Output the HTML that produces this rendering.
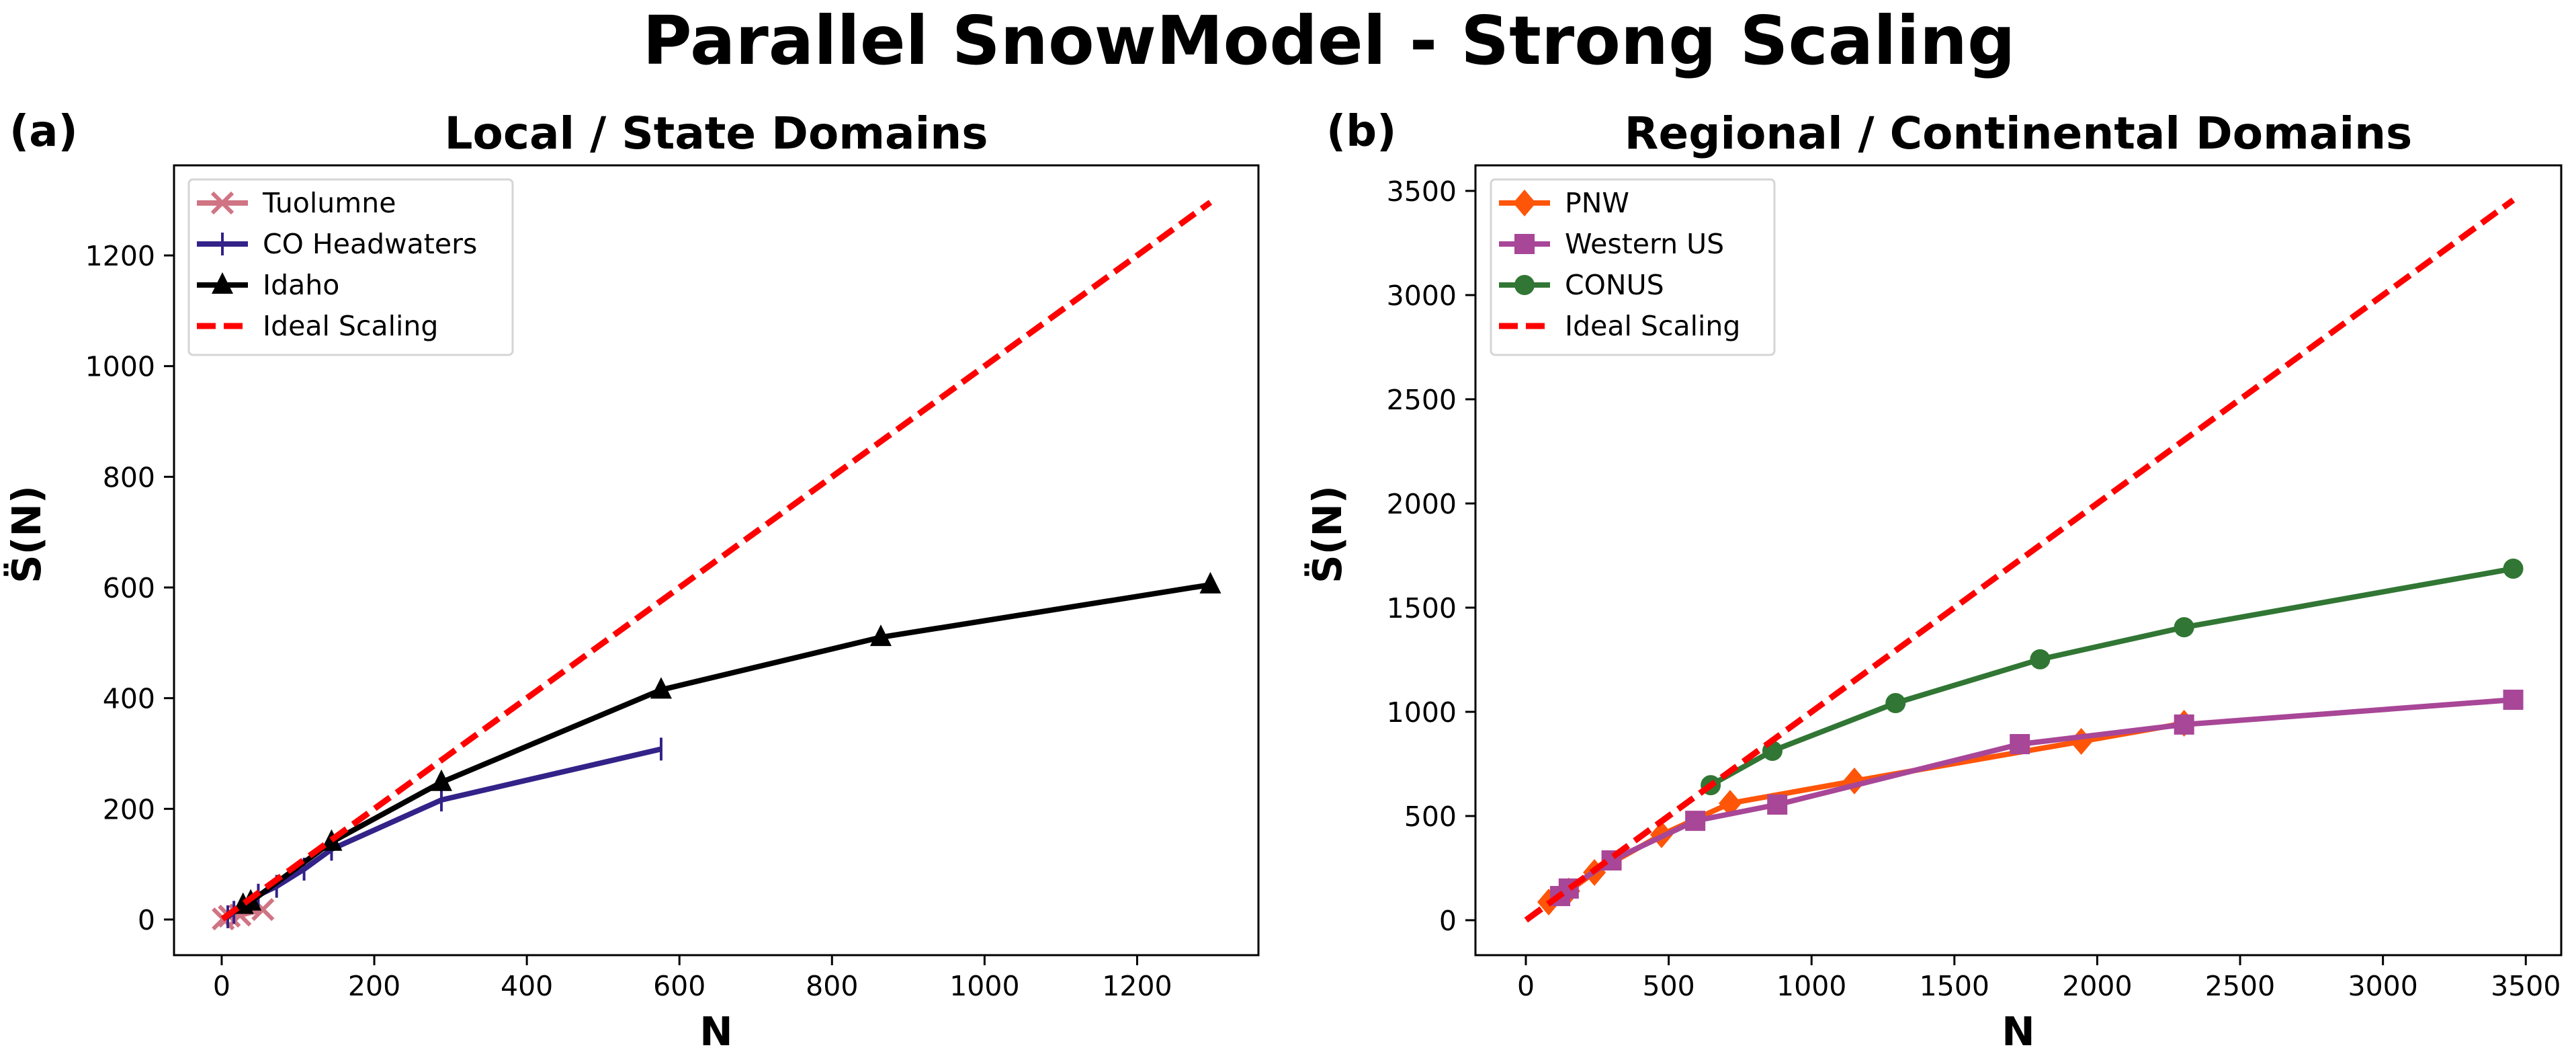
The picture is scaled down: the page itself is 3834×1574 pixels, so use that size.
<!DOCTYPE html>
<html><head><meta charset="utf-8">
<style>
html,body{margin:0;padding:0;background:#fff;}
svg{display:block;}
text{font-family:"DejaVu Sans","Liberation Sans",sans-serif;}
</style></head>
<body>
<svg id="fig" xmlns="http://www.w3.org/2000/svg" width="3834" height="1574" viewBox="0 0 3834 1574">
<rect x="0" y="0" width="3834" height="1574" fill="#fff"/>
<text x="1978" y="95" font-size="100" font-weight="bold" text-anchor="middle">Parallel SnowModel - Strong Scaling</text>
<text x="14" y="217" font-size="64" font-weight="bold">(a)</text>
<text x="1974" y="217" font-size="64" font-weight="bold">(b)</text>
<text x="1066" y="221" font-size="66" font-weight="bold" text-anchor="middle">Local / State Domains</text>
<text x="3004" y="221" font-size="66" font-weight="bold" text-anchor="middle">Regional / Continental Domains</text>
<g id="left"></g>
<g id="right"></g>
</svg>
<script>
// ---- Left chart data ----
const tuolN = [2, 10, 24, 54];
const tuolS = [1, 6, 8, 18];
const coN = [8, 16, 48, 72, 108, 144, 288, 576];
const coS = [5, 13, 44, 60, 91, 127, 216, 308];
const idahoN = [28, 38, 144, 288, 576, 864, 1296];
const idahoS = [26, 32, 140, 248, 415, 510, 605];
const idealLeftN = [1, 1296];
const leftXTicks = [0, 200, 400, 600, 800, 1000, 1200];
const leftYTicks = [0, 200, 400, 600, 800, 1000, 1200];
// ---- Right chart data ----
const pnwN = [80, 150, 240, 475, 715, 1150, 1944, 2304];
const pnwS = [87, 140, 229, 410, 561, 668, 858, 945];
const wusN = [120, 150, 300, 593, 880, 1729, 2304, 3456];
const wusS = [116, 152, 287, 477, 555, 845, 939, 1058];
const conusN = [647, 863, 1294, 1800, 2304, 3456];
const conusS = [648, 813, 1042, 1252, 1406, 1687];
const idealRightN = [1, 3456];
const rightXTicks = [0, 500, 1000, 1500, 2000, 2500, 3000, 3500];
const rightYTicks = [0, 500, 1000, 1500, 2000, 2500, 3000, 3500];

const NS = 'http://www.w3.org/2000/svg';
function mk(tag, attrs, parent){const e=document.createElementNS(NS,tag);for(const k in attrs)e.setAttribute(k,attrs[k]);parent.appendChild(e);return e;}

function makeAxes(g, box, xlim, ylim){
  const sx = v => box.x0 + (v - xlim[0]) / (xlim[1] - xlim[0]) * (box.x1 - box.x0);
  const sy = v => box.y1 - (v - ylim[0]) / (ylim[1] - ylim[0]) * (box.y1 - box.y0);
  return {sx, sy};
}

function drawMarker(g, type, x, y, color, name){
  let el;
  if(type==='x'){
    el = mk('path',{d:`M${x-15},${y-15}L${x+15},${y+15}M${x-15},${y+15}L${x+15},${y-15}`,stroke:color,'stroke-width':6,fill:'none'},g);
  } else if(type==='|'){
    el = mk('line',{x1:x,y1:y-17,x2:x,y2:y+17,stroke:color,'stroke-width':4},g);
  } else if(type==='^'){
    el = mk('path',{d:`M${x},${y-19}L${x+16},${y+13}L${x-16},${y+13}Z`,fill:color},g);
  } else if(type==='D'){
    el = mk('path',{d:`M${x},${y-20}L${x+17},${y}L${x},${y+20}L${x-17},${y}Z`,fill:color},g);
  } else if(type==='s'){
    el = mk('rect',{x:x-15,y:y-15,width:30,height:30,fill:color},g);
  } else if(type==='o'){
    el = mk('circle',{cx:x,cy:y,r:15,fill:color},g);
  }
  
  
}

function drawSeries(g, ax, xs, ys, color, marker, name, alpha){
  const sg = mk('g',{opacity:alpha||1},g);
  
  
  const pts = xs.map((v,i)=>ax.sx(v).toFixed(1)+','+ax.sy(ys[i]).toFixed(1)).join(' ');
  const pl = mk('polyline',{points:pts,fill:'none',stroke:color,'stroke-width':8,'stroke-linejoin':'round'},sg);
  
  
  xs.forEach((v,i)=>drawMarker(sg, marker, ax.sx(v), ax.sy(ys[i]), color, name + '-point'));
}

function drawIdeal(g, ax, xs){
  const l = mk('line',{x1:ax.sx(xs[0]),y1:ax.sy(xs[0]),x2:ax.sx(xs[1]),y2:ax.sy(xs[1]),stroke:'#ff0000','stroke-width':9,'stroke-dasharray':'28 12'},g);
  
  
}

function drawFrame(g, box, ax, xt, yt, prefix){
  xt.forEach(t=>{
    const x = ax.sx(t);
    const tk = mk('line',{x1:x,y1:box.y1,x2:x,y2:box.y1+15,stroke:'#000','stroke-width':3},g);
    
    
    const tl = mk('text',{x:x,y:box.y1+60,'font-size':41,'text-anchor':'middle'},g);
    tl.textContent = t;
    
    
  });
  yt.forEach(t=>{
    const y = ax.sy(t);
    const tk = mk('line',{x1:box.x0-15,y1:y,x2:box.x0,y2:y,stroke:'#000','stroke-width':3},g);
    
    
    const tl = mk('text',{x:box.x0-28,y:y+15,'font-size':41,'text-anchor':'end'},g);
    tl.textContent = t;
    
    
  });
  const fr = mk('rect',{x:box.x0,y:box.y0,width:box.x1-box.x0,height:box.y1-box.y0,fill:'none',stroke:'#000','stroke-width':3},g);
  
  
  const xl = mk('text',{x:(box.x0+box.x1)/2,y:1555,'font-size':59,'font-weight':'bold','text-anchor':'middle'},g);
  xl.textContent = 'N';
  
  
  const lx = prefix==='left' ? 60 : 1996;
  const yl = mk('text',{x:0,y:0,'font-size':59,'font-weight':'bold','text-anchor':'middle',transform:`translate(${lx},795) rotate(-90)`},g);
  yl.textContent = 'S\u0308(N)';
  
  
}

function drawLegend(g, x, y, w, entries, prefix){
  const lg = mk('g',{},g);
  
  
  mk('rect',{x:x,y:y,width:w,height:261,rx:6,fill:'#fff',stroke:'#d5d5d5','stroke-width':3},lg);
  entries.forEach((e,i)=>{
    const cy = y + 35 + i*61;
    const eg = mk('g',{opacity:e.alpha||1},lg);
    
    
    if(e.dash){
      mk('line',{x1:x+12,y1:cy,x2:x+88,y2:cy,stroke:'#ff0000','stroke-width':9,'stroke-dasharray':'28 12'},eg);
    } else {
      mk('line',{x1:x+12,y1:cy,x2:x+88,y2:cy,stroke:e.color,'stroke-width':8},eg);
      drawMarker(eg, e.marker, x+50, cy, e.color, 'legend-marker');
    }
    const t = mk('text',{x:x+110,y:cy+14,'font-size':41},lg);
    t.textContent = e.label;
    
    
  });
}

// Left
const gl = document.getElementById('left');
const boxL = {x0:259, x1:1873, y0:246, y1:1421};
const axL = makeAxes(gl, boxL, [-62.5, 1359], [-64.4, 1362.8]);
drawIdeal(gl, axL, idealLeftN);
drawSeries(gl, axL, tuolN, tuolS, '#cc6677', 'x', 'tuolumne', 0.9);
drawSeries(gl, axL, coN, coS, '#332288', '|', 'co-headwaters');
drawSeries(gl, axL, idahoN, idahoS, '#000000', '^', 'idaho');
drawIdeal(gl, axL, [1, 200]);
drawFrame(gl, boxL, axL, leftXTicks, leftYTicks, 'left');
drawLegend(gl, 281, 267, 482, [
  {label:'Tuolumne', color:'#cc6677', marker:'x', alpha:0.9},
  {label:'CO Headwaters', color:'#332288', marker:'|'},
  {label:'Idaho', color:'#000', marker:'^'},
  {label:'Ideal Scaling', dash:true}], 'left');

// Right
const gr = document.getElementById('right');
const boxR = {x0:2196, x1:3812, y0:246, y1:1421};
const axR = makeAxes(gr, boxR, [-176.4, 3624], [-167.7, 3622.6]);
drawIdeal(gr, axR, idealRightN);
drawSeries(gr, axR, conusN, conusS, '#317634', 'o', 'conus');
drawSeries(gr, axR, pnwN, pnwS, '#fe5508', 'D', 'pnw');
drawSeries(gr, axR, wusN, wusS, '#a84697', 's', 'western-us');
drawIdeal(gr, axR, [1, 900]);
drawFrame(gr, boxR, axR, rightXTicks, rightYTicks, 'right');
drawLegend(gr, 2219, 267, 422, [
  {label:'PNW', color:'#fe5508', marker:'D'},
  {label:'Western US', color:'#a84697', marker:'s'},
  {label:'CONUS', color:'#317634', marker:'o'},
  {label:'Ideal Scaling', dash:true}], 'right');
</script>
</body></html>
